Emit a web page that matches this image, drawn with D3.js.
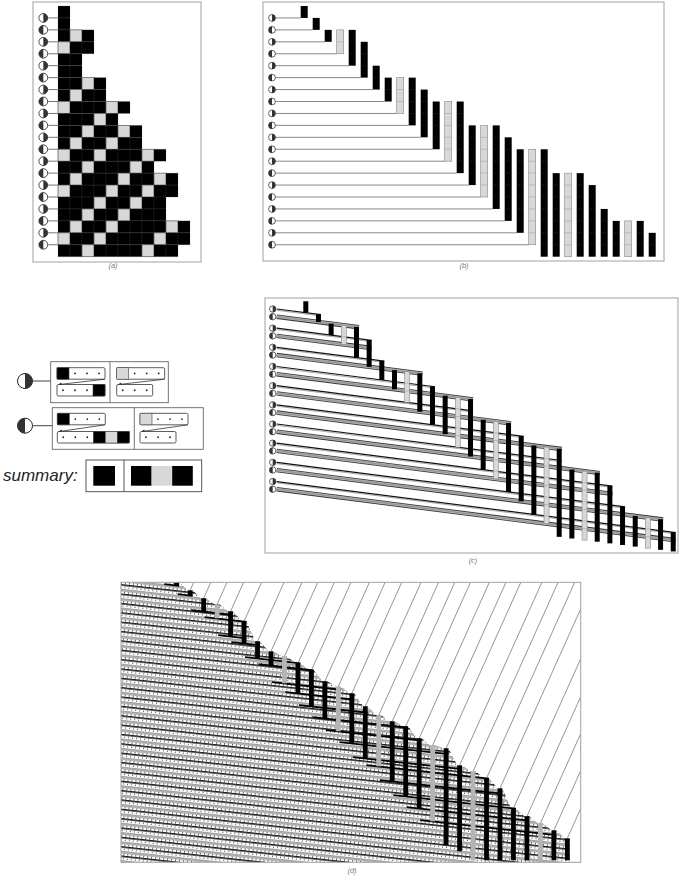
<!DOCTYPE html>
<html><head><meta charset="utf-8">
<script src="https://cdn.jsdelivr.net/npm/d3@7/dist/d3.min.js"></script>
<style>body{margin:0;background:#fff}svg{display:block}</style>
</head><body>
<svg id="chart" width="692" height="876"></svg>
<script>
// ---------------- DATA ----------------
// successive states of the cyclic tag system (B = black, G = gray), panel (a)
const rows = ["B","B","BGB","GBB","BB","BB","BBGB","BGBB","GBBBGB","BBBGB","BBGBBGB",
  "BGBBGBB","GBBGBBBGB","BBGBBBGB","BGBBBGBBGB","GBBBGBBGBB","BBBGBBGBB","BBGBBGBBB",
  "BGBBGBBBBGB","GBBGBBBBGBB","BBGBBBBGBB"];
// which rule is used at each step (1 = right-half-black circle, 2 = left-half-black circle)
const rules = [1,2,1,2,1,2,1,2,1,2,1,2,1,2,1,2,1,2,1,2];
// block appended by each rule when the first element is black
const ruleAppend = ["B","BGB"];
// panel (d): emulation time at which each element appears / disappears
const dAppear = [0,8,16,22,29,39,59,69,74,81,88,99,104,111,124,133,139,144,156,163,166,183,189,196,206,226,234,241,248,256];
const dVanish = [3,13,29,36,54,61,76,83,101,111,124,136,149,161,176,184,199,214,226,239,263,269,278,278,278,278,278,278,278,278];
// panel labels
const panelLabels = ["(a)","(b)","(c)","(d)"];

// ---------------- derived element list ----------------
const N = rows.length - 1; // 20 steps
const seq = rows.map(r => r[0]).concat(rows[N].slice(1).split(""));
const create = seq.map((_, k) => d3.min(rows.map((r, i) => ({i, r}))
  .filter(d => d.i <= k && d.i + d.r.length - 1 >= k), d => d.i));
const endRow = seq.map((_, k) => Math.min(k, N));
const lastIdx = i => i + rows[i].length - 1;

const svg = d3.select("#chart");
const FONT = "'Liberation Sans', Arial, sans-serif";
const GRAY = "#d8d8d8";

function halfCircle(g, cx, cy, r, rule, sw) {
  g.append("circle").attr("cx", cx).attr("cy", cy).attr("r", r)
    .attr("fill", "#fff").attr("stroke", "#222").attr("stroke-width", sw || 0.8);
  const sweep = rule === 1 ? 1 : 0;
  g.append("path").attr("d", `M${cx},${cy - r} A${r},${r} 0 0 ${sweep} ${cx},${cy + r} Z`)
    .attr("fill", "#333");
}
function frame(x0, y0, x1, y1) {
  svg.append("rect").attr("x", x0).attr("y", y0).attr("width", x1 - x0).attr("height", y1 - y0)
    .attr("fill", "none").attr("stroke", "#a0a0a0").attr("stroke-width", 1);
}
function label(t, x, y) {
  svg.append("text").attr("x", x).attr("y", y).attr("text-anchor", "middle")
    .attr("font-family", FONT).attr("font-style", "italic").attr("font-size", 7.5)
    .attr("fill", "#777").text(t);
}

// ---------------- panel (a) ----------------
{
  frame(33, 2, 201, 262);
  label(panelLabels[0], 113, 268);
  const g = svg.append("g");
  const x = d3.scaleLinear().domain([0, 1]).range([58, 70]);
  const y = d3.scaleLinear().domain([0, rows.length]).range([6, 256.7]);
  const h = y(1) - y(0);
  rows.forEach((r, i) => r.split("").forEach((c, j) => {
    g.append("rect").attr("x", x(j)).attr("y", y(i)).attr("width", 12).attr("height", h)
      .attr("fill", c === "B" ? "#000" : GRAY)
      .attr("stroke", "#555")
      .attr("stroke-width", c === "B" ? 0.4 : 0.7)
      .attr("stroke-dasharray", c === "B" ? "1,1.2" : null);
  }));
  rules.forEach((rule, k) => {
    const i = k + 1;
    g.append("line").attr("x1", 47).attr("x2", 58).attr("y1", y(i)).attr("y2", y(i))
      .attr("stroke", "#555").attr("stroke-width", 0.8);
    halfCircle(g, 43.3, y(i), 4.4, rule);
  });
}

// ---------------- panel (b) ----------------
{
  frame(263, 2, 664, 261);
  label(panelLabels[1], 464, 268);
  const g = svg.append("g");
  const x = d3.scaleLinear().domain([0, 1]).range([300.7, 312.7]);
  const y = d3.scaleLinear().domain([0, rows.length]).range([6, 256.7]);
  const w = 7;
  rules.forEach((rule, k) => {
    const i = k + 1;
    g.append("line").attr("x1", 275).attr("x2", x(i - 1)).attr("y1", y(i)).attr("y2", y(i))
      .attr("stroke", "#6a6a6a").attr("stroke-width", 0.8);
    halfCircle(g, 272, y(i), 3.4, rule, 0.7);
  });
  seq.forEach((c, k) => {
    const y0 = y(create[k]), y1 = y(endRow[k] + 1);
    g.append("rect").attr("x", x(k)).attr("y", y0).attr("width", w).attr("height", y1 - y0)
      .attr("fill", c === "B" ? "#000" : GRAY)
      .attr("stroke", c === "B" ? "none" : "#888").attr("stroke-width", 0.6);
    for (let r = create[k] + 1; r <= endRow[k]; r++) {
      g.append("line").attr("x1", x(k)).attr("x2", x(k) + w).attr("y1", y(r)).attr("y2", y(r))
        .attr("stroke", c === "B" ? "#444" : "#999").attr("stroke-width", 0.5)
        .attr("stroke-dasharray", c === "B" ? "1,1" : null);
    }
  });
}

// ---------------- legend ----------------
{
  const g = svg.append("g");
  const cell = 12, sh = 11.5;
  function strip(x0, y0, cells) {
    g.append("rect").attr("x", x0).attr("y", y0).attr("width", cells.length * cell).attr("height", sh)
      .attr("rx", 1.5).attr("fill", "#fff").attr("stroke", "#333").attr("stroke-width", 0.8);
    cells.split("").forEach((c, j) => {
      const cx = x0 + j * cell;
      if (c === ".") {
        g.append("circle").attr("cx", cx + cell / 2).attr("cy", y0 + sh / 2).attr("r", 0.9).attr("fill", "#222");
      } else {
        g.append("rect").attr("x", cx).attr("y", y0).attr("width", cell).attr("height", sh)
          .attr("fill", c === "B" ? "#000" : GRAY).attr("stroke", "#444").attr("stroke-width", 0.6);
      }
    });
  }
  function connector(xr, yt, xl, yb) {
    g.append("line").attr("x1", xr).attr("y1", yt).attr("x2", xl + 2).attr("y2", yb)
      .attr("stroke", "#333").attr("stroke-width", 0.8);
    g.append("path").attr("d", `M${xl + 1},${yb + 0.3} l3.2,-2.2 l0.6,1.6 Z`).attr("fill", "#333");
  }
  const boxes = [
    {y0: 361.7, y1: 402.7, x0: 50.7, x1: 168.3, div: 110, left: 57, right: 116.7, ty: 367.7, by: 384.5, cy: 381},
    {y0: 407.7, y1: 449.3, x0: 52.3, x1: 203.3, div: 134.3, left: 57.3, right: 140, ty: 413.3, by: 431.5, cy: 425.7}
  ];
  ruleAppend.forEach((app, ri) => {
    const b = boxes[ri];
    g.append("rect").attr("x", b.x0).attr("y", b.y0).attr("width", b.x1 - b.x0).attr("height", b.y1 - b.y0)
      .attr("fill", "#fff").attr("stroke", "#666").attr("stroke-width", 0.9);
    g.append("line").attr("x1", b.div).attr("x2", b.div).attr("y1", b.y0).attr("y2", b.y1)
      .attr("stroke", "#666").attr("stroke-width", 0.9);
    strip(b.left, b.ty, "B...");
    strip(b.left, b.by, "..." + app);
    connector(b.left + 4 * cell, b.ty + sh, b.left, b.by);
    strip(b.right, b.ty, "G...");
    strip(b.right, b.by, "...");
    connector(b.right + 4 * cell, b.ty + sh, b.right, b.by);
    g.append("line").attr("x1", 32.5).attr("x2", b.x0).attr("y1", b.cy).attr("y2", b.cy)
      .attr("stroke", "#444").attr("stroke-width", 1);
    halfCircle(g, 25, b.cy, 7.5, ri + 1, 1);
  });
  g.append("text").attr("x", 3).attr("y", 481).attr("font-family", FONT).attr("font-style", "italic")
    .attr("font-size", 17).attr("fill", "#222").text("summary:");
  g.append("rect").attr("x", 86).attr("y", 460).attr("width", 115.7).attr("height", 31.7)
    .attr("fill", "#fff").attr("stroke", "#444").attr("stroke-width", 0.9);
  g.append("line").attr("x1", 124).attr("x2", 124).attr("y1", 460).attr("y2", 491.7)
    .attr("stroke", "#444").attr("stroke-width", 0.9);
  const sx = [93.3, 131];
  ruleAppend.forEach((app, ri) => {
    app.split("").forEach((c, j) => {
      g.append("rect").attr("x", sx[ri] + j * 20.6).attr("y", 466).attr("width", ri === 0 ? 21.7 : 20.6).attr("height", 19.7)
        .attr("fill", c === "B" ? "#000" : GRAY);
    });
  });
}

// ---------------- panel (c) ----------------
{
  frame(265, 298, 678, 553);
  label(panelLabels[2], 473, 563);
  const g = svg.append("g");
  const x = d3.scaleLinear().domain([0, 1]).range([303.3, 315.97]);
  const pairY = d3.scaleLinear().domain([0, 1]).range([309, 328.17]);
  const s = 0.128, x0 = 276.7, w = 5;
  const yc = i => pairY(Math.floor((i - 1) / 2)) + ((i - 1) % 2 + 2) % 2 * 7.7;
  const L = (i, xx) => yc(i) + s * (xx - x0);
  rules.forEach((rule, k) => {
    const i = k + 1;
    const xe = x(lastIdx(i)) + w;
    if (rule === 1) {
      g.append("line").attr("x1", x0).attr("y1", L(i, x0) + 1.3).attr("x2", xe).attr("y2", L(i, xe) + 1.3)
        .attr("stroke", "#aaa").attr("stroke-width", 1);
      g.append("line").attr("x1", x0).attr("y1", L(i, x0)).attr("x2", xe).attr("y2", L(i, xe))
        .attr("stroke", "#111").attr("stroke-width", 1.2);
    } else {
      g.append("line").attr("x1", x0).attr("y1", L(i, x0)).attr("x2", xe).attr("y2", L(i, xe))
        .attr("stroke", "#333").attr("stroke-width", 4.4);
      g.append("line").attr("x1", x0).attr("y1", L(i, x0)).attr("x2", xe).attr("y2", L(i, xe))
        .attr("stroke", "#b0b0b0").attr("stroke-width", 2.8);
      g.append("line").attr("x1", x0).attr("y1", L(i, x0)).attr("x2", xe).attr("y2", L(i, xe))
        .attr("stroke", "#777").attr("stroke-width", 0.5);
    }
  });
  seq.forEach((c, k) => {
    const xm = x(k) + w / 2;
    const y0 = L(create[k], xm), y1 = L(endRow[k] + 1, xm);
    g.append("rect").attr("x", x(k)).attr("y", y0).attr("width", w).attr("height", y1 - y0)
      .attr("fill", c === "B" ? "#000" : GRAY)
      .attr("stroke", c === "B" ? "none" : "#888").attr("stroke-width", 0.6);
    if (c === "G") for (let r = create[k] + 1; r <= endRow[k]; r++) {
      g.append("line").attr("x1", x(k)).attr("x2", x(k) + w).attr("y1", L(r, xm)).attr("y2", L(r, xm))
        .attr("stroke", "#999").attr("stroke-width", 0.5);
    }
  });
  rules.forEach((rule, k) => halfCircle(g, 272.7, yc(k + 1), 3.2, rule, 0.7));
}

// ---------------- panel (d) ----------------
{
  const X0 = 121, X1 = 580.7, Y0 = 582.3, Y1 = 862.3;
  const g = svg.append("g");
  const x = d3.scaleLinear().domain([0, 1]).range([174.3, 187.77]);
  const y = d3.scaleLinear().domain([0, 280]).range([Y0, Y1]);
  const s = 0.11, w = 4.8, slope = 0.45;
  const defs = svg.append("defs");
  const pat = defs.append("pattern").attr("id", "stripes").attr("patternUnits", "userSpaceOnUse")
    .attr("width", 12).attr("height", 9.3).attr("patternTransform", `rotate(${Math.atan(s) * 180 / Math.PI})`);
  pat.append("rect").attr("width", 12).attr("height", 9.3).attr("fill", "#fff");
  pat.append("rect").attr("y", 4.6).attr("width", 12).attr("height", 2.6).attr("fill", "#9c9c9c");
  pat.append("line").attr("x1", 0).attr("x2", 12).attr("y1", 5.9).attr("y2", 5.9)
    .attr("stroke", "#c8c8c8").attr("stroke-width", 0.5);
  [[0.8, "#111", 1.5, null], [3, "#222", 1.1, "1,3"], [8.2, "#222", 1.1, "1,3"]].forEach(([yy, col, sw, da]) => {
    pat.append("line").attr("x1", 0).attr("x2", 12).attr("y1", yy).attr("y2", yy)
      .attr("stroke", col).attr("stroke-width", sw).attr("stroke-dasharray", da);
  });
  const clip = defs.append("clipPath").attr("id", "dclip");
  clip.append("rect").attr("x", X0).attr("y", Y0).attr("width", X1 - X0).attr("height", Y1 - Y0);
  const gc = g.append("g").attr("clip-path", "url(#dclip)");
  // striped region below the staircase of element tops
  const pts = [[X0, Y0]];
  seq.forEach((c, k) => {
    pts.push([x(k), y(dAppear[k])], [x(k) + w, y(dAppear[k])]);
  });
  pts.push([x(seq.length - 1) + w, Y1], [X0, Y1]);
  gc.append("path").attr("d", d3.line()(pts) + "Z").attr("fill", "url(#stripes)");
  // incoming diagonal signals
  seq.forEach((c, k) => {
    const xs = x(k) + w / 2, ys = y(dAppear[k]);
    let xe = xs + slope * (ys - Y0), ye = Y0;
    if (xe > X1) { xe = X1; ye = ys - (X1 - xs) / slope; }
    gc.append("line").attr("x1", xs).attr("y1", ys).attr("x2", xe).attr("y2", ye)
      .attr("stroke", "#666").attr("stroke-width", 0.7);
  });
  // step lines: from the removed element rightwards while elements already exist
  rules.forEach((rule, k) => {
    const i = k + 1;
    const yb = y(dVanish[i - 1]);
    const lineY = xx => yb + s * (xx - x(i - 1));
    let e = i - 1;
    while (e + 1 <= lastIdx(i) && y(dAppear[e + 1]) <= lineY(x(e + 1)) + 1) e++;
    const xa = x(i - 1) - 10, xb = x(e) + w;
    gc.append("line").attr("x1", xa).attr("y1", lineY(xa)).attr("x2", xb).attr("y2", lineY(xb))
      .attr("stroke", "#000").attr("stroke-width", 1.8);
  });
  seq.forEach((c, k) => {
    const y0 = y(dAppear[k]), y1 = y(dVanish[k]);
    gc.append("rect").attr("x", x(k)).attr("y", y0).attr("width", w).attr("height", y1 - y0)
      .attr("fill", c === "B" ? "#000" : "#b4b4b4");
  });
  frame(X0, Y0, X1, Y1);
  label(panelLabels[3], 352, 873);
}
</script>
</body></html>
